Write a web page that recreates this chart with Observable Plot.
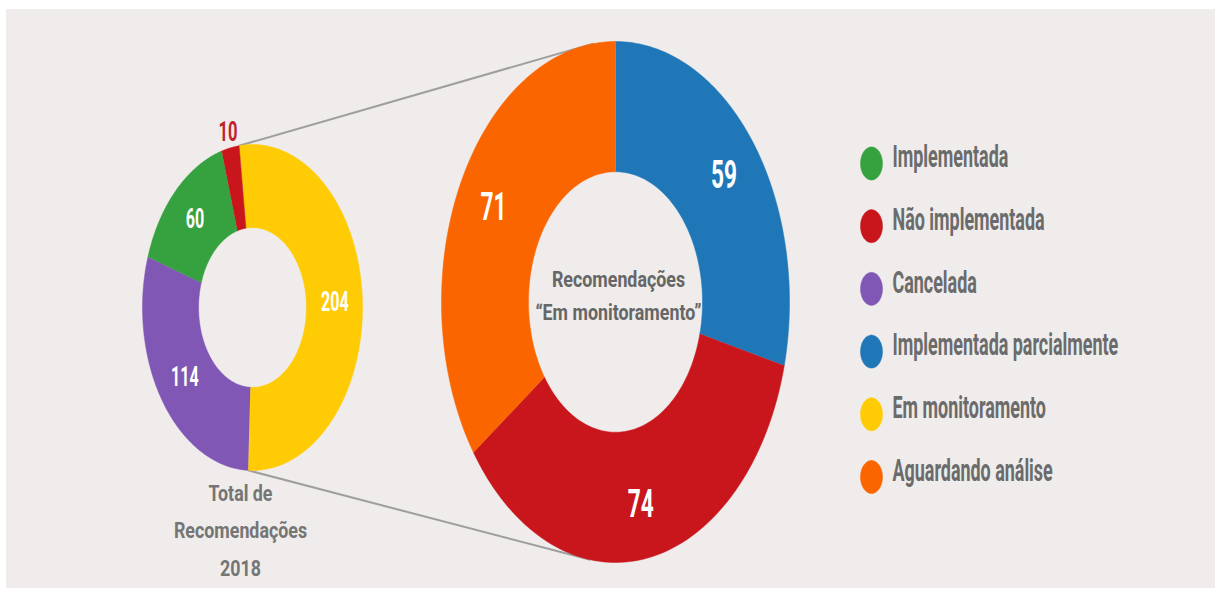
<!DOCTYPE html>
<html><head><meta charset="utf-8">
<script src="https://cdn.jsdelivr.net/npm/d3@7"></script>
<script src="https://cdn.jsdelivr.net/npm/@observablehq/plot@0.6"></script>
<style>
html,body{margin:0;padding:0;background:#fff;}
#wrap{position:relative;width:1215px;height:589px;overflow:hidden;background:#fff;}
#bg{position:absolute;left:6px;top:9px;right:0;bottom:1px;background:#efeceb;}
#chart{position:absolute;left:0;top:0;}
</style></head><body><div id="wrap"><div id="bg"></div><div id="chart"></div></div>
<script>
// ---- data ----
const categories = ["Implementada","Não implementada","Cancelada","Implementada parcialmente","Em monitoramento","Aguardando análise"];
const categoryColors = ["#35a13f","#c9161d","#8157b5","#1f77b7","#ffcb05","#fb6500"];
const totalCategories = ["Em monitoramento","Cancelada","Implementada","Não implementada"];
const totalValues = [204,114,60,10];
const monitorCategories = ["Implementada parcialmente","Não implementada","Aguardando análise"];
const monitorValues = [59,74,71];
const totalTitle = ["Total de","Recomendações","2018"];
const monitorTitle = ["Recomendações","“Em monitoramento”"];

// ---- layout ----
const W = 1215, H = 589;
const deg = Math.PI/180;
const left  = {cx:252, cy:307, rx:110, ry:163, inner:0.49, start:-7*deg, labelR:0.75};
const right = {cx:615, cy:301.5, rx:174, ry:260.5, inner:0.5, start:0, labelR:0.79};
const SX = 0.87;
// vertical stretch per text mark (in mark order)
const SY = [1.48, 1.48, 1.48, 1.12, 1.12, 1.48];

function pt(g, r, a){ return [g.cx + g.rx*r*Math.sin(a), g.cy - g.ry*r*Math.cos(a)]; }

function donut(g, cats, vals, prefix){
  const arcs = d3.pie().sort(null).startAngle(g.start).endAngle(g.start + 2*Math.PI)(vals);
  const total = d3.sum(vals);
  const rows = [], labels = [];
  arcs.forEach((a, k) => {
    const n = 90;
    for (let i=0;i<=n;i++){ const t=a.startAngle+(a.endAngle-a.startAngle)*i/n; const [x,y]=pt(g,1,t); rows.push({id:prefix+k, cat:cats[k], x, y}); }
    for (let i=n;i>=0;i--){ const t=a.startAngle+(a.endAngle-a.startAngle)*i/n; const [x,y]=pt(g,g.inner,t); rows.push({id:prefix+k, cat:cats[k], x, y}); }
    const mid = (a.startAngle+a.endAngle)/2;
    const outside = vals[k]/total < 0.05;
    const [x,y] = pt(g, outside ? 1.1 : g.labelR, mid);
    labels.push({x, y, text:String(vals[k]), cat:cats[k], outside});
  });
  return {rows, labels, arcs};
}

const L = donut(left, totalCategories, totalValues, "L");
const R = donut(right, monitorCategories, monitorValues, "R");

// connectors: from the "Em monitoramento" slice edges of the left donut to the right donut
const ym = L.arcs[0];
const rightConnectorAngles = [-7.3*deg, 188.3*deg];
const links = [
  {a: pt(left,1,ym.startAngle), b: pt(right,1,rightConnectorAngles[0])},
  {a: pt(left,1,ym.endAngle),   b: pt(right,1,rightConnectorAngles[1])}
];

// titles (one row per line)
const titleFont = 20.5;
const baseOff = 0.32*titleFont*1.12;
const totalRows = totalTitle.map((t,i)=>({text:t, x:240, y:500 + i*37.5 - baseOff}));
const monitorRows = monitorTitle.map((t,i)=>({text:t, x:618, y:286.7 + i*32.3 - baseOff}));

// legend
const legendX = 871, legendY0 = 163, legendStep = 62.7;
const legendDots = [];
categories.forEach((c,i) => {
  const g = {cx:legendX, cy:legendY0+i*legendStep, rx:11, ry:16.5};
  for (let j=0;j<=60;j++){ const [x,y]=pt(g,1,j/60*2*Math.PI); legendDots.push({id:"D"+i, cat:c, x, y}); }
});
const legendText = categories.map((c,i)=>({text:c, x:legendX+21, y:legendY0+i*legendStep-6}));

const plot = Plot.plot({
  width: W, height: H, margin: 0,
  x: {domain:[0,W], range:[0,W], axis:null},
  y: {domain:[0,H], range:[0,H], axis:null},
  color: {domain: categories, range: categoryColors},
  style: {background:"transparent", fontFamily:"Roboto, 'Liberation Sans', sans-serif", overflow:"visible"},
  marks: [
    Plot.link(links, {x1:d=>d.a[0], y1:d=>d.a[1], x2:d=>d.b[0], y2:d=>d.b[1], stroke:"#9e9e9e", strokeWidth:2}),
    Plot.line(L.rows, {x:"x", y:"y", z:"id", fill:"cat", stroke:"cat", strokeWidth:0.5, curve:"linear"}),
    Plot.line(R.rows, {x:"x", y:"y", z:"id", fill:"cat", stroke:"cat", strokeWidth:0.5, curve:"linear"}),
    Plot.line(legendDots, {x:"x", y:"y", z:"id", fill:"cat", stroke:"cat", strokeWidth:0.5}),
    Plot.text(L.labels.filter(d=>!d.outside), {x:"x", y:"y", text:"text", fill:"white", fontSize:18.5, fontWeight:700}),
    Plot.text(L.labels.filter(d=>d.outside), {x:"x", y:"y", text:"text", fill:"#c0222a", fontSize:19, fontWeight:700}),
    Plot.text(R.labels, {x:"x", y:"y", text:"text", fill:"white", fontSize:26, fontWeight:700}),
    Plot.text(totalRows, {x:"x", y:"y", text:"text", fill:"#757575", fontSize:titleFont, fontWeight:700}),
    Plot.text(monitorRows, {x:"x", y:"y", text:"text", fill:"#666", fontSize:titleFont, fontWeight:700}),
    Plot.text(legendText, {x:"x", y:"y", text:"text", textAnchor:"start", fill:"#6b6b6b", fontSize:20.6, fontWeight:700})
  ]
});
plot.querySelectorAll('g[aria-label="text"]').forEach((g, k) => {
  g.querySelectorAll("text").forEach(t => {
    const tr = t.getAttribute("transform") || "";
    t.setAttribute("transform", tr + ` scale(${SX},${SY[k]})`);
  });
});
document.getElementById("chart").appendChild(plot);
</script></body></html>
